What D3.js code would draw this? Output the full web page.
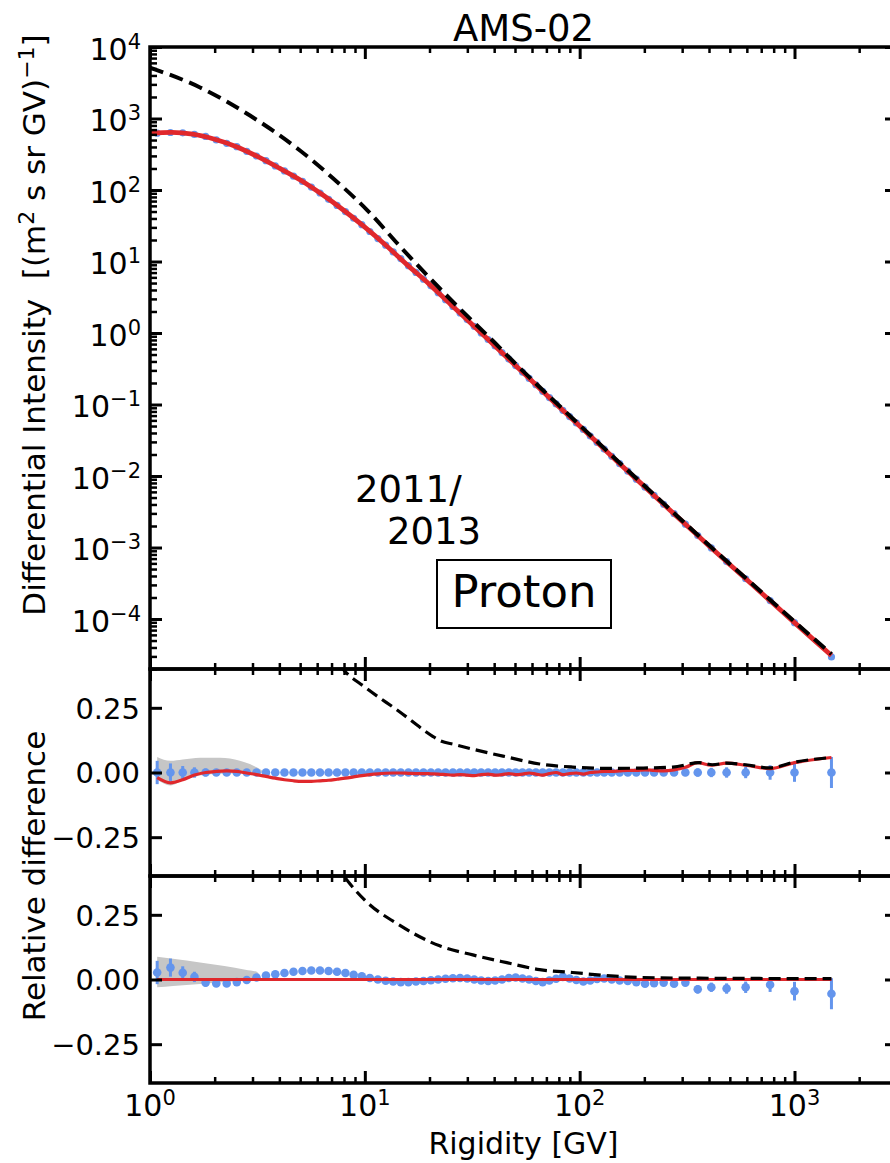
<!DOCTYPE html>
<html>
<head>
<meta charset="utf-8">
<script src="https://cdn.jsdelivr.net/npm/d3@7"></script>
<style>
body { margin: 0; background: #fff; }
svg text { font-family: "DejaVu Sans", sans-serif; fill: #000; }
</style>
</head>
<body>
<svg id="chart" width="890" height="1163"></svg>
<script>
// AMS-02 proton data, 2011/2013 (rigidity in GV)
var dataR = [1.08, 1.245, 1.42, 1.61, 1.815, 2.035, 2.275, 2.535, 2.82, 3.13,
	3.465, 3.83, 4.225, 4.655, 5.125, 5.635, 6.185, 6.78, 7.425, 8.12,
	8.87, 9.68, 10.55, 11.5, 12.5, 13.55, 14.7, 15.95, 17.3, 18.75,
	20.3, 21.95, 23.75, 25.7, 27.75, 29.95, 32.3, 34.8, 37.5, 40.4,
	43.5, 46.8, 50.35, 54.15, 58.2, 62.55, 67.25, 72.3, 77.7, 83.5,
	89.75, 96.5, 104, 112, 120.5, 130, 141, 153.5, 167.5, 183.5,
	201.5, 222, 246, 275, 310.5, 354.5, 410, 483, 592.5, 770,
	1000, 1486];

var dataFlux = [624, 637, 631, 598, 562, 501, 450, 403, 347, 299,
	257, 217, 185, 156, 132, 110, 90.8, 74.1, 60.8, 49.9,
	40.3, 32.7, 26.3, 20.9, 16.9, 13.6, 11.0, 8.75, 7.03, 5.66,
	4.57, 3.67, 2.93, 2.35, 1.91, 1.54, 1.24, 1.00, 0.811, 0.658,
	0.532, 0.432, 0.350, 0.284, 0.232, 0.189, 0.153, 0.125, 0.102, 0.0828,
	0.0678, 0.0552, 0.0449, 0.0363, 0.0295, 0.0238, 0.0189, 0.0149, 0.0117, 0.00904,
	0.00698, 0.00537, 0.00403, 0.00297, 0.00212, 0.00147, 0.000988, 0.000635, 0.000366, 0.000181,
	0.000089, 0.0000295];

// relative errors of the data points
var dataErr = [0.045, 0.035, 0.025, 0.02, 0.015, 0.012, 0.01, 0.01, 0.009, 0.009,
	0.008, 0.008, 0.008, 0.008, 0.008, 0.008, 0.008, 0.008, 0.008, 0.008,
	0.008, 0.008, 0.008, 0.008, 0.008, 0.008, 0.008, 0.008, 0.008, 0.008,
	0.008, 0.008, 0.008, 0.008, 0.008, 0.008, 0.008, 0.008, 0.008, 0.008,
	0.008, 0.008, 0.008, 0.008, 0.008, 0.008, 0.008, 0.008, 0.008, 0.009,
	0.009, 0.009, 0.009, 0.009, 0.009, 0.01, 0.01, 0.01, 0.01, 0.011,
	0.012, 0.012, 0.013, 0.013, 0.014, 0.016, 0.018, 0.02, 0.022, 0.028,
	0.036, 0.06];

// relative difference of the data points, middle and bottom panels
var midData = [0, 0, 0, 0, 0, 0, 0, 0, 0, 0, 0, 0,
	0, 0, 0, 0, 0, 0, 0, 0, 0, 0, 0, 0,
	0, 0, 0, 0, 0, 0, 0, 0, 0, 0, 0, 0,
	0, 0, 0, 0, 0, 0, 0, 0, 0, 0, 0, 0,
	0, 0, 0, 0, 0, 0, 0, 0, 0, 0, 0, 0,
	0, 0, 0, 0, 0, 0, 0, 0, 0, 0, 0, 0];

var botData = [0.027, 0.046, 0.026, 0.01, -0.012, -0.015, -0.015, -0.01, -0.002, 0.008,
	0.015, 0.02, 0.025, 0.03, 0.033, 0.035, 0.035, 0.033, 0.03, 0.025,
	0.018, 0.012, 0.006, 0.0, -0.005, -0.008, -0.01, -0.01, -0.008, -0.006,
	-0.003, 0.0, 0.003, 0.005, 0.006, 0.004, 0.0, -0.004, -0.006, -0.004,
	0.0, 0.006, 0.008, 0.004, 0.0, -0.006, -0.01, -0.004, 0.003, 0.01,
	0.004, -0.002, -0.008, -0.004, 0.002, 0.004, 0.0, -0.004, -0.006, -0.01,
	-0.016, -0.014, -0.012, -0.016, -0.012, -0.038, -0.03, -0.035, -0.03, -0.02,
	-0.045, -0.055];

// model (red)
var modelR = [1.0, 1.26, 1.58, 2.0, 2.51, 3.16, 3.98, 5.01, 6.31, 7.94,
	10, 12.6, 15.8, 20, 25.1, 31.6, 39.8, 50.1, 63.1, 79.4,
	100, 126, 158, 200, 251, 316, 398, 501, 631, 794,
	1000, 1260, 1486];
var modelFlux = [618, 638, 603, 513, 407, 295, 204, 138, 87.1, 52.5,
	30.2, 16.6, 8.91, 4.79, 2.51, 1.32, 0.684, 0.355, 0.184, 0.0955,
	0.0501, 0.026, 0.01365, 0.00716, 0.0038, 0.00202, 0.00107, 0.000575, 0.000309, 0.000166,
	0.0000891, 0.0000479, 0.0000309];

var midModel = [-0.02, -0.04, -0.028, -0.01, 0.0, 0.004, 0.006, 0.004, -0.002, -0.008,
	-0.015, -0.022, -0.028, -0.032, -0.034, -0.034, -0.032, -0.03, -0.026, -0.022,
	-0.017, -0.012, -0.008, -0.005, -0.003, -0.002, -0.002, -0.003, -0.004, -0.004,
	-0.005, -0.006, -0.008, -0.01, -0.008, -0.01, -0.012, -0.008, -0.006, -0.01,
	-0.008, -0.004, -0.008, -0.006, -0.002, -0.006, -0.01, -0.004, 0.0, -0.008,
	-0.004, -0.002, -0.006, 0.0, 0.002, 0.004, 0.004, 0.006, 0.008, 0.008,
	0.01, 0.008, 0.006, 0.01, 0.02, 0.038, 0.028, 0.036, 0.028, 0.015,
	0.038, 0.058];

var botModelR = [1.08, 1486];
var botModel = [0, 0];

// local interstellar spectrum (black dashed)
var lisR = [1.0, 1.71, 2.92, 4.99, 7.13, 10.3, 14.6, 24.8, 42.5, 50.1,
	63.1, 79.4, 100, 158, 251, 398, 631, 1000, 1486];
var lisFlux = [5160, 2720, 1100, 357, 145, 51.6, 16.2, 3.04, 0.62, 0.375,
	0.192, 0.0995, 0.0515, 0.0141, 0.0039, 0.00109, 0.000316, 0.000092, 0.0000324];

var midLisR = [6.88, 7.9, 10, 14.5, 20.7, 22.3, 26.2, 31.8, 45.8, 65.1,
	92.8, 133.5, 190, 271, 361, 415, 483, 592, 765, 1000, 1486];
var midLis = [0.47, 0.4, 0.33, 0.235, 0.14, 0.124, 0.108, 0.09, 0.06, 0.033,
	0.021, 0.016, 0.017, 0.021, 0.038, 0.03, 0.036, 0.03, 0.018, 0.04, 0.058];

var botLisR = [7.25, 8.52, 10.2, 14.5, 22.3, 31.8, 45.8, 65.1, 92.8, 133.5,
	190, 361, 687, 1486];
var botLis = [0.45, 0.37, 0.3, 0.21, 0.13, 0.095, 0.065, 0.038, 0.027, 0.015,
	0.008, 0.005, 0.004, 0.003];

// grey uncertainty bands
var midBandR = [1.08, 1.245, 1.42, 1.71, 2.12, 2.62, 3.14, 3.43];
var midBandLo = [-0.027, -0.05, -0.03, -0.012, -0.005, -0.003, -0.002, 0];
var midBandHi = [0.06, 0.045, 0.05, 0.057, 0.057, 0.045, 0.02, 0];

var botBandR = [1.08, 1.28, 1.71, 2.22, 2.78, 3.14, 3.3];
var botBandLo = [-0.03, -0.025, -0.017, -0.01, -0.004, 0, 0];
var botBandHi = [0.088, 0.08, 0.066, 0.052, 0.038, 0.03, 0];

var xMajor = [1, 10, 100, 1000];
var fluxMajor = [1e-4, 1e-3, 1e-2, 1e-1, 1, 10, 100, 1000, 10000];
var relMajor = [-0.25, 0, 0.25];

var blue = "#6495ed",
	red = "#e0282c",
	grey = "#c6c6c6";

var svg = d3.select("#chart");
svg.append("rect").attr("width", 890).attr("height", 1163).attr("fill", "#fff");

var x = d3.scaleLog().domain([1, 3000]).range([150, 897]);
var yFlux = d3.scaleLog().domain([2e-5, 1e4]).range([669, 47]);
var yMid = d3.scaleLinear().domain([-0.4, 0.4]).range([876, 669]);
var yBot = d3.scaleLinear().domain([-0.4, 0.4]).range([1083, 876]);

function isPow10(v) {
	var l = Math.log10(v);
	return Math.abs(l - Math.round(l)) < 1e-9;
}
var xMinor = x.ticks().filter(v => !isPow10(v));
var fluxMinor = yFlux.ticks().filter(v => !isPow10(v));

function supText(sel, base, exp) {
	sel.append("tspan").text(base);
	sel.append("tspan").attr("dy", -11).attr("font-size", 21).text(exp);
}
function expStr(e) {
	return e < 0 ? "\u2212" + -e : "" + e;
}

// panel group with clip
function makePanel(id, y) {
	var r = y.range();
	var g = svg.append("g").attr("id", id);
	g.append("clipPath")
		.attr("id", id + "Clip")
		.append("rect")
		.attr("x", 150)
		.attr("y", r[1])
		.attr("width", 747)
		.attr("height", r[0] - r[1]);
	var plot = g.append("g").attr("clip-path", "url(#" + id + "Clip)");
	return { g: g, plot: plot };
}

function addTicks(g, axis, tr, size, width) {
	var a = g
		.append("g")
		.attr("transform", tr)
		.call(axis.tickSizeInner(-size).tickSizeOuter(0).tickFormat(""));
	a.select(".domain").remove();
	a.selectAll(".tick line").attr("stroke", "#000").attr("stroke-width", width);
	return a;
}

function drawFrame(g, y, yMajorVals, yMinorVals) {
	var r = y.range();
	var bottom = r[0],
		top = r[1];
	// x ticks on top and bottom
	addTicks(g, d3.axisTop(x).tickValues(xMinor), "translate(0," + top + ")", 6, 2.5);
	addTicks(g, d3.axisTop(x).tickValues(xMajor), "translate(0," + top + ")", 12, 3);
	addTicks(g, d3.axisBottom(x).tickValues(xMinor), "translate(0," + bottom + ")", 6, 2.5);
	addTicks(g, d3.axisBottom(x).tickValues(xMajor), "translate(0," + bottom + ")", 12, 3);
	// y ticks left and right
	if (yMinorVals) {
		addTicks(g, d3.axisLeft(y).tickValues(yMinorVals), "translate(150,0)", 7, 2.5);
		addTicks(g, d3.axisRight(y).tickValues(yMinorVals), "translate(897,0)", 7, 2.5);
	}
	addTicks(g, d3.axisLeft(y).tickValues(yMajorVals), "translate(150,0)", 12, 3);
	addTicks(g, d3.axisRight(y).tickValues(yMajorVals), "translate(897,0)", 12, 3);
	g.append("rect")
		.attr("x", 150)
		.attr("y", top)
		.attr("width", 747)
		.attr("height", bottom - top)
		.attr("fill", "none")
		.attr("stroke", "#000")
		.attr("stroke-width", 3.5);
}

// ---------------- TOP PANEL ----------------
var topP = makePanel("topPanel", yFlux);
var flux = dataR.map((r, i) => ({ r: r, v: dataFlux[i] }));

topP.plot
	.selectAll(".pt")
	.data(flux)
	.join("circle")
	.attr("cx", d => x(d.r))
	.attr("cy", d => yFlux(d.v))
	.attr("r", 3.6)
	.attr("fill", blue);

var fluxLine = d3
	.line()
	.x(d => x(d.r))
	.y(d => yFlux(d.v))
	.curve(d3.curveMonotoneX);

topP.plot
	.append("path")
	.datum(modelR.map((r, i) => ({ r: r, v: modelFlux[i] })))
	.attr("d", fluxLine)
	.attr("fill", "none")
	.attr("stroke", red)
	.attr("stroke-width", 4.8);

topP.plot
	.append("path")
	.datum(lisR.map((r, i) => ({ r: r, v: lisFlux[i] })))
	.attr("d", fluxLine)
	.attr("fill", "none")
	.attr("stroke", "#000")
	.attr("stroke-width", 4)
	.attr("stroke-dasharray", "14,7");

drawFrame(topP.g, yFlux, fluxMajor, fluxMinor);

topP.g
	.selectAll(".ylab")
	.data(fluxMajor)
	.join("text")
	.attr("x", 141)
	.attr("y", d => yFlux(d))
	.attr("dy", "0.42em")
	.attr("text-anchor", "end")
	.attr("font-size", 30)
	.each(function(d) {
		supText(d3.select(this), "10", expStr(Math.round(Math.log10(d))));
	});

// ---------------- RELATIVE DIFFERENCE PANELS ----------------
function relPanel(id, y, pts, modR, modV, lR, lV, bR, bLo, bHi) {
	var p = makePanel(id, y);
	var band = d3
		.area()
		.x(d => x(d.r))
		.y0(d => y(d.lo))
		.y1(d => y(d.hi))
		.curve(d3.curveMonotoneX);
	p.plot
		.append("path")
		.datum(bR.map((r, i) => ({ r: r, lo: bLo[i], hi: bHi[i] })))
		.attr("d", band)
		.attr("fill", grey);

	var d = dataR.map((r, i) => ({ r: r, v: pts[i], e: dataErr[i] }));
	p.plot
		.selectAll(".err")
		.data(d)
		.join("line")
		.attr("x1", e => x(e.r))
		.attr("x2", e => x(e.r))
		.attr("y1", e => y(e.v - e.e))
		.attr("y2", e => y(e.v + e.e))
		.attr("stroke", blue)
		.attr("stroke-width", 3);
	p.plot
		.selectAll(".pt")
		.data(d)
		.join("circle")
		.attr("cx", e => x(e.r))
		.attr("cy", e => y(e.v))
		.attr("r", 4.3)
		.attr("fill", blue);

	var line = d3
		.line()
		.x(e => x(e.r))
		.y(e => y(e.v))
		.curve(d3.curveMonotoneX);
	p.plot
		.append("path")
		.datum(modR.map((r, i) => ({ r: r, v: modV[i] })))
		.attr("d", line)
		.attr("fill", "none")
		.attr("stroke", red)
		.attr("stroke-width", 3.2);
	p.plot
		.append("path")
		.datum(lR.map((r, i) => ({ r: r, v: lV[i] })))
		.attr("d", line)
		.attr("fill", "none")
		.attr("stroke", "#000")
		.attr("stroke-width", 3.2)
		.attr("stroke-dasharray", "12,6");

	drawFrame(p.g, y, relMajor, null);

	p.g
		.selectAll(".ylab")
		.data(relMajor)
		.join("text")
		.attr("x", 140)
		.attr("y", v => y(v))
		.attr("dy", "0.37em")
		.attr("text-anchor", "end")
		.attr("font-size", 29)
		.text(v => (v < 0 ? "\u2212" : "") + Math.abs(v).toFixed(2));
	return p;
}

relPanel("midPanel", yMid, midData, dataR, midModel, midLisR, midLis, midBandR, midBandLo, midBandHi);
var botP = relPanel("botPanel", yBot, botData, botModelR, botModel, botLisR, botLis, botBandR, botBandLo, botBandHi);

// x tick labels under the bottom panel
botP.g
	.selectAll(".xlab")
	.data(xMajor)
	.join("text")
	.attr("x", d => x(d))
	.attr("y", 1116)
	.attr("text-anchor", "middle")
	.attr("font-size", 30)
	.each(function(d) {
		supText(d3.select(this), "10", expStr(Math.round(Math.log10(d))));
	});

// ---------------- LABELS ----------------
svg.append("text")
	.attr("x", 523.5)
	.attr("y", 41)
	.attr("text-anchor", "middle")
	.attr("font-size", 37)
	.text("AMS-02");

svg.append("text")
	.attr("x", 523.5)
	.attr("y", 1154)
	.attr("text-anchor", "middle")
	.attr("font-size", 30)
	.text("Rigidity [GV]");

var yl = svg
	.append("text")
	.attr("transform", "translate(45,325) rotate(-90)")
	.attr("text-anchor", "middle")
	.attr("font-size", 31);
yl.append("tspan").text("Differential Intensity\u00a0\u00a0[(m");
yl.append("tspan").attr("dy", -11).attr("font-size", 22).text("2");
yl.append("tspan").attr("dy", 11).text(" s sr GV)");
yl.append("tspan").attr("dy", -11).attr("font-size", 22).text("\u22121");
yl.append("tspan").attr("dy", 11).text("]");

svg.append("text")
	.attr("transform", "translate(45,876) rotate(-90)")
	.attr("text-anchor", "middle")
	.attr("font-size", 31)
	.text("Relative difference");

// annotations
svg.append("text").attr("x", 355).attr("y", 502).attr("font-size", 37).text("2011/");
svg.append("text").attr("x", 387).attr("y", 544).attr("font-size", 37).text("2013");

svg.append("rect")
	.attr("x", 437)
	.attr("y", 560)
	.attr("width", 174)
	.attr("height", 68)
	.attr("fill", "#fff")
	.attr("stroke", "#000")
	.attr("stroke-width", 2);
svg.append("text")
	.attr("x", 524)
	.attr("y", 607)
	.attr("text-anchor", "middle")
	.attr("font-size", 45)
	.text("Proton");
</script>
</body>
</html>
